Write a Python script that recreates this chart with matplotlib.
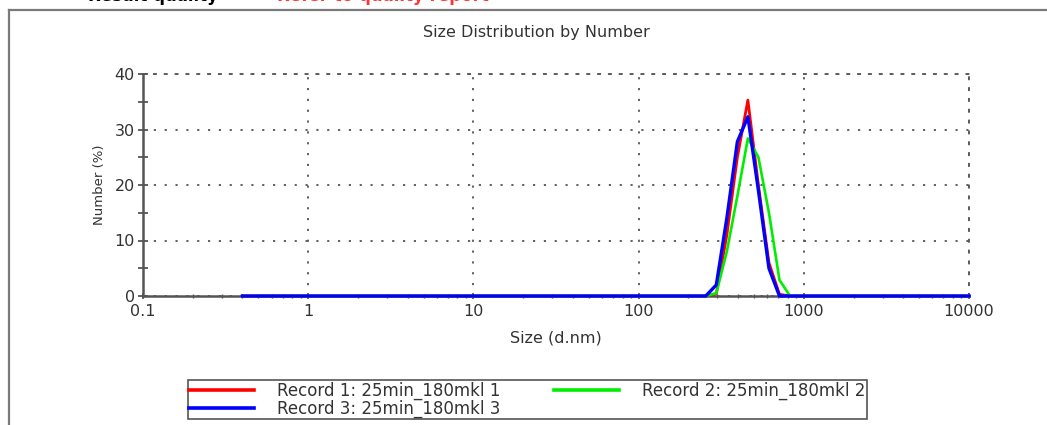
import matplotlib
matplotlib.use("Agg")
import matplotlib.pyplot as plt
from matplotlib.lines import Line2D

# Zetasizer size classes (d.nm)
sizes = [0.4, 0.4632, 0.5365, 0.6213, 0.7195, 0.8332, 0.9649, 1.117, 1.294, 1.499,
         1.736, 2.010, 2.328, 2.696, 3.122, 3.615, 4.187, 4.849, 5.615, 6.503,
         7.531, 8.721, 10.10, 11.70, 13.54, 15.69, 18.17, 21.04, 24.36, 28.21,
         32.67, 37.84, 43.82, 50.75, 58.77, 68.06, 78.82, 91.28, 105.7, 122.4,
         141.8, 164.2, 190.1, 220.2, 255.0, 295.3, 342.0, 396.1, 458.7, 531.2,
         615.1, 712.4, 825.0, 955.4, 1106, 1281, 1484, 1718, 1990, 2305,
         2669, 3091, 3580, 4145, 4801, 5560, 6439, 7456, 8635, 10000]

# number % per class, classes 255.0 .. 825.0 carry the peak, rest are zero
rec1 = [0] * 44 + [0, 0.4, 11, 25, 35.3, 20, 6, 0.3, 0] + [0] * 17
rec2 = [0] * 44 + [0, 0.5, 8, 18, 28.4, 25, 15, 2.9, 0] + [0] * 17
rec3 = [0] * 44 + [0, 2.0, 14, 27.8, 32.3, 19, 5, 0, 0] + [0] * 17

labels = ["Record 1: 25min_180mkl 1", "Record 2: 25min_180mkl 2", "Record 3: 25min_180mkl 3"]
x_ticks = [0.1, 1, 10, 100, 1000, 10000]
x_ticklabels = ["0.1", "1", "10", "100", "1000", "10000"]
y_ticks = [0, 10, 20, 30, 40]

W, H = 1047, 425
fig = plt.figure(figsize=(W / 100, H / 100), dpi=100)
plt.rcParams['font.family'] = ['DejaVu Sans']

# outer report frame
fig.add_artist(Line2D([9 / W, 9 / W], [0, 1 - 10 / H], transform=fig.transFigure,
                      color='#7a7a7a', lw=1.6))
fig.add_artist(Line2D([9 / W, 1], [1 - 10 / H, 1 - 10 / H], transform=fig.transFigure,
                      color='#7a7a7a', lw=1.6))
fig.text(88 / W, 1 - 1.2 / H, "Result quality", fontsize=12, fontweight='bold',
         color='black', va='baseline', ha='left')
fig.text(277 / W, 1 - 1.2 / H, "Refer to quality report", fontsize=12, fontweight='bold',
         color='#ff3535', va='baseline', ha='left')

ax = fig.add_axes([143 / W, 1 - 296 / H, (969 - 143) / W, (296 - 74) / H])

dot = (0, (1.2, 4.8))
l1, = ax.plot(sizes, rec1, color='#ff0000', lw=2.0, clip_on=False, zorder=3)
l2, = ax.plot(sizes, rec2, color='#00ee00', lw=1.9, clip_on=False, zorder=3)
l3, = ax.plot(sizes, rec3, color='#0000ff', lw=2.4, clip_on=False, zorder=4)

ax.set_xscale('log')
ax.set_xlim(0.1, 10000)
ax.set_ylim(0, 40)
ax.set_xticks(x_ticks)
ax.set_xticklabels(x_ticklabels)
ax.set_yticks(y_ticks)
ax.set_yticks([5, 15, 25, 35], minor=True)

for s in ['left', 'bottom']:
    ax.spines[s].set_color('#555555')
    ax.spines[s].set_linewidth(1.8)
for s in ['top', 'right']:
    ax.spines[s].set_color('#555555')
    ax.spines[s].set_linewidth(1.3)
    ax.spines[s].set_linestyle(dot)

ax.grid(True, which='major', color='#555555', linestyle=dot, lw=1.3)
ax.set_axisbelow(True)

ax.tick_params(axis='y', which='both', direction='inout', length=7, width=1.3,
               color='#555555', labelsize=11.5, labelcolor='#333333', pad=2.5)
ax.tick_params(axis='x', which='major', direction='inout', length=4, width=1.2,
               color='#555555', labelsize=11.5, labelcolor='#333333', pad=4)
ax.tick_params(axis='x', which='minor', direction='inout', length=3, width=1.0,
               color='#555555', labelbottom=False)

ax.set_ylabel("Number (%)", fontsize=9.5, color='#333333', labelpad=6)
ax.set_xlabel("Size (d.nm)", fontsize=11.5, color='#333333', labelpad=8)
fig.text(536 / W, 1 - 32 / H, "Size Distribution by Number", fontsize=11.5,
         color='#333333', ha='center', va='center')

leg = fig.legend([l1, l3, l2], [labels[0], labels[2], labels[1]], ncol=2,
                 loc='upper left', bbox_to_anchor=(188 / W, 1 - 380 / H),
                 fontsize=12, handlelength=3.9, handletextpad=1.38,
                 columnspacing=3.2, labelspacing=0.0, borderpad=0.08,
                 borderaxespad=0, fancybox=False, framealpha=1)
leg.get_frame().set_edgecolor('#555555')
leg.get_frame().set_linewidth(1.2)
for t in leg.get_texts():
    t.set_color('#333333')
for h in leg.legend_handles:
    h.set_linewidth(2.6)

fig.savefig("out.png", dpi=100)
